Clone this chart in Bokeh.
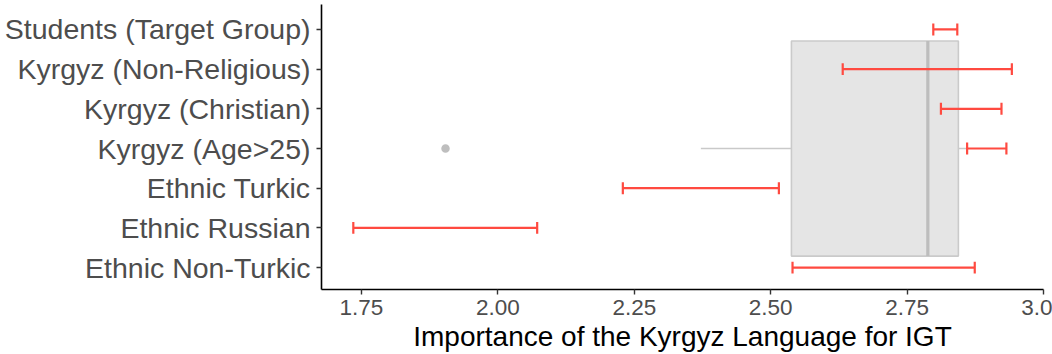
from bokeh.plotting import figure
from bokeh.models import Range1d, FixedTicker, ColumnDataSource
from bokeh.embed import file_html
from bokeh.resources import INLINE

# Data
categories = ["Ethnic Non-Turkic", "Ethnic Russian", "Ethnic Turkic", "Kyrgyz (Age>25)",
              "Kyrgyz (Christian)", "Kyrgyz (Non-Religious)", "Students (Target Group)"]
ci_low = [2.540, 1.735, 2.229, 2.860, 2.812, 2.632, 2.798]
ci_high = [2.874, 2.072, 2.515, 2.932, 2.923, 2.942, 2.842]

# Boxplot summary (drawn at the middle category)
box_q1 = 2.538
box_median = 2.788
box_q3 = 2.844
whisker_low = 2.372
whisker_high = 2.861
outliers = [1.904]

x_ticks = [1.75, 2.00, 2.25, 2.50, 2.75, 3.00]
x_tick_labels = ["1.75", "2.00", "2.25", "2.50", "2.75", "3.0"]

FONT = "Liberation Sans"

ypos = list(range(1, len(categories) + 1))
box_center = 4
box_half = 2.71
cap_half = 0.15

p = figure(width=1052, height=354, output_backend="svg", toolbar_location=None,
           x_range=Range1d(1.6767, 3.0), y_range=Range1d(0.448, 7.628),
           min_border_left=321, min_border_right=9, min_border_top=4, min_border_bottom=64)
p.outline_line_color = None
p.grid.visible = False
p.background_fill_color = "white"
p.border_fill_color = "white"

# Boxplot
p.segment(x0=[whisker_low, box_q3], x1=[box_q1, whisker_high], y0=[box_center] * 2, y1=[box_center] * 2,
          line_color="#c9c9c9", line_width=1.6)
p.quad(left=[box_q1], right=[box_q3], bottom=[box_center - box_half], top=[box_center + box_half],
       fill_color="#e5e5e5", line_color="#cacaca", line_width=1.6)
p.segment(x0=[box_median], x1=[box_median], y0=[box_center - box_half], y1=[box_center + box_half],
          line_color="#bdbdbd", line_width=3.2)
p.scatter(x=outliers, y=[box_center] * len(outliers), size=8.5, fill_color="#bebebe", line_color=None)

# Error bars
src = ColumnDataSource(dict(lo=ci_low, hi=ci_high, y=ypos,
                            yb=[v - cap_half for v in ypos], yt=[v + cap_half for v in ypos]))
err_color = "#ff4a40"
p.segment(x0="lo", x1="hi", y0="y", y1="y", source=src, line_color=err_color, line_width=2.2)
p.segment(x0="lo", x1="lo", y0="yb", y1="yt", source=src, line_color=err_color, line_width=2.2)
p.segment(x0="hi", x1="hi", y0="yb", y1="yt", source=src, line_color=err_color, line_width=2.2)

# Axes
p.xaxis.ticker = FixedTicker(ticks=x_ticks)
p.xaxis.major_label_overrides = {t: l for t, l in zip(x_ticks, x_tick_labels)}
p.yaxis.ticker = FixedTicker(ticks=ypos)
p.yaxis.major_label_overrides = {y: c for y, c in zip(ypos, categories)}

for ax in (p.xaxis, p.yaxis):
    ax.axis_line_color = "black"
    ax.axis_line_width = 1.6
    ax.major_tick_line_color = "#333333"
    ax.major_tick_line_width = 1.4
    ax.major_tick_out = 5
    ax.major_tick_in = 0
    ax.minor_tick_line_color = None
    ax.major_label_text_color = "#4d4d4d"
    ax.major_label_text_font = FONT

p.yaxis.major_label_text_font_size = "28.5px"
p.yaxis.major_label_standoff = 6
p.xaxis.major_label_text_font_size = "22.5px"
p.xaxis.major_label_standoff = 5

p.xaxis.axis_label = "Importance of the Kyrgyz Language for IGT"
p.xaxis.axis_label_text_font = FONT
p.xaxis.axis_label_text_font_size = "28px"
p.xaxis.axis_label_text_font_style = "normal"
p.xaxis.axis_label_text_color = "black"
p.xaxis.axis_label_standoff = 3

open("out.html", "w").write(file_html(p, INLINE))
